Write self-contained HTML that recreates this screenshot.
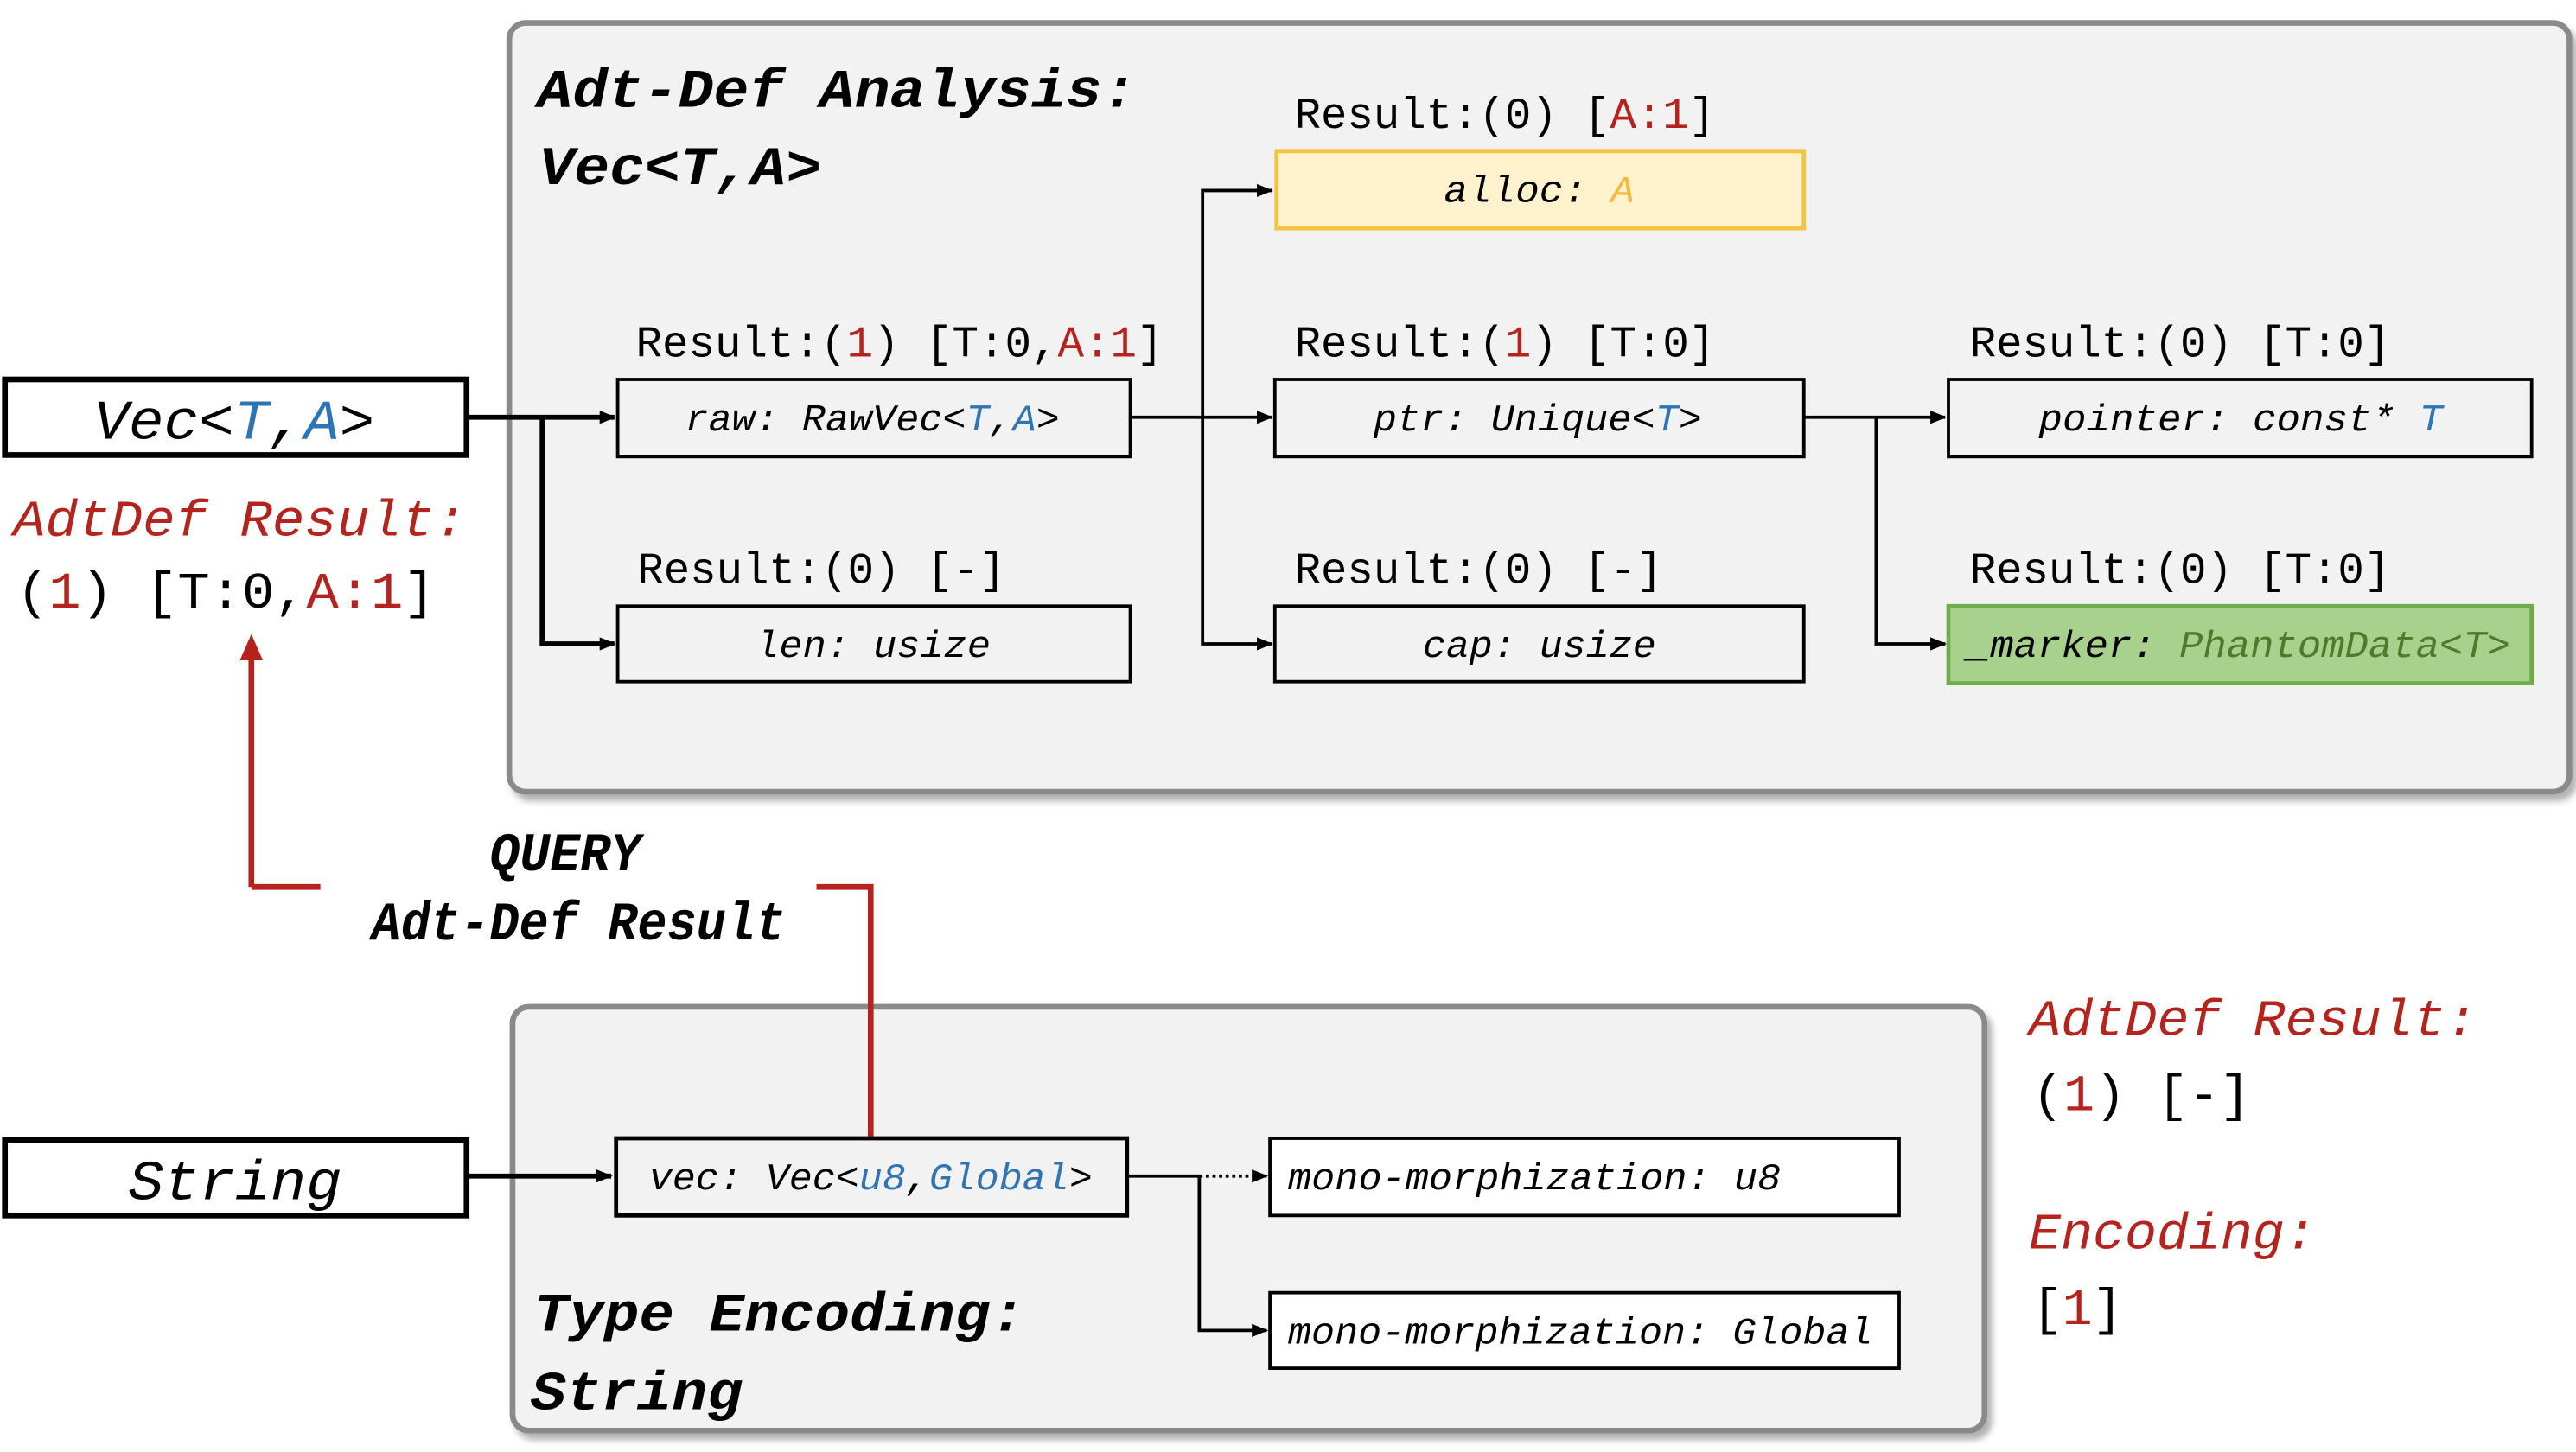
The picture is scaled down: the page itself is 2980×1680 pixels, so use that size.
<!DOCTYPE html>
<html><head><meta charset="utf-8"><style>
html,body{margin:0;padding:0;background:#fff;}
svg{display:block;}
text{font-family:"Liberation Mono","DejaVu Sans Mono",monospace;}
.lb{font-size:27px;}
.bx{font-size:23px;font-style:italic;}
.tt{font-size:33px;font-style:italic;font-weight:bold;}
.r{fill:#b5231c;}
.b{fill:#2e75b6;}
.y{fill:#f5b83d;}
</style></head><body>
<svg width="2980" height="1680" viewBox="0 0 1568 884" preserveAspectRatio="none" xmlns="http://www.w3.org/2000/svg">
<defs>
<marker id="ah" markerWidth="10" markerHeight="10" refX="9" refY="5" orient="auto" markerUnits="userSpaceOnUse"><path d="M0,1 L10,5 L0,9 z" fill="#000"/></marker>
<marker id="rh" markerWidth="14" markerHeight="14" refX="7" refY="7" orient="auto" markerUnits="userSpaceOnUse"><path d="M0,1 L14,7 L0,13 z" fill="#b5231c"/></marker>
<filter id="sh" x="-5%" y="-5%" width="110%" height="115%"><feDropShadow dx="3" dy="4" stdDeviation="2" flood-color="#000" flood-opacity="0.3"/></filter>
</defs>

<!-- top group -->
<rect x="310" y="14" width="1254" height="468" rx="10" fill="#f2f2f2" stroke="#8a8a8a" stroke-width="3.5" filter="url(#sh)"/>
<text class="tt" x="327" y="65" textLength="365" lengthAdjust="spacingAndGlyphs">Adt-Def Analysis:</text>
<text class="tt" x="328" y="112" textLength="172" lengthAdjust="spacingAndGlyphs">Vec&lt;T,A&gt;</text>

<!-- bottom group -->
<rect x="312" y="613" width="896" height="258" rx="10" fill="#f2f2f2" stroke="#8a8a8a" stroke-width="3.5" filter="url(#sh)"/>
<text class="tt" x="325" y="810" font-size="36" textLength="299" lengthAdjust="spacingAndGlyphs">Type Encoding:</text>
<text class="tt" x="323" y="858" font-size="36" textLength="129" lengthAdjust="spacingAndGlyphs">String</text>

<!-- Vec box -->
<rect x="3" y="231" width="281" height="46" fill="#fff" stroke="#000" stroke-width="3.5"/>
<text x="57" y="267" font-size="34" font-style="italic" textLength="171" lengthAdjust="spacingAndGlyphs">Vec&lt;<tspan class="b">T</tspan>,<tspan class="b">A</tspan>&gt;</text>
<text x="8" y="326" font-size="31" font-style="italic" class="r" textLength="276" lengthAdjust="spacingAndGlyphs">AdtDef Result:</text>
<text x="10" y="370" font-size="31" textLength="255" lengthAdjust="spacingAndGlyphs">(<tspan class="r">1</tspan>) [T:0,<tspan class="r">A:1</tspan>]</text>

<!-- arrows top -->
<g stroke="#000" stroke-width="3" fill="none">
<path d="M285,254 H374" marker-end="url(#ah)"/>
<path d="M330,254 V392 H374" marker-end="url(#ah)"/>
</g>
<g stroke="#000" stroke-width="2" fill="none">
<path d="M688,254 H774" marker-end="url(#ah)"/>
<path d="M732,254 V116 H774" marker-end="url(#ah)"/>
<path d="M732,254 V392 H774" marker-end="url(#ah)"/>
<path d="M1098,254 H1184" marker-end="url(#ah)"/>
<path d="M1142,254 V392 H1184" marker-end="url(#ah)"/>
</g>

<!-- raw / len -->
<text class="lb" x="387" y="217" textLength="321" lengthAdjust="spacingAndGlyphs">Result:(<tspan class="r">1</tspan>) [T:0,<tspan class="r">A:1</tspan>]</text>
<rect x="376" y="231" width="312" height="47" fill="#f2f2f2" stroke="#000" stroke-width="2"/>
<text class="bx" x="417" y="262" textLength="228" lengthAdjust="spacingAndGlyphs">raw: RawVec&lt;<tspan class="b">T</tspan>,<tspan class="b">A</tspan>&gt;</text>
<text class="lb" x="388" y="355" textLength="224" lengthAdjust="spacingAndGlyphs">Result:(0) [-]</text>
<rect x="376" y="369" width="312" height="46" fill="#f2f2f2" stroke="#000" stroke-width="2"/>
<text class="bx" x="460" y="400" textLength="143" lengthAdjust="spacingAndGlyphs">len: usize</text>

<!-- alloc / ptr / cap -->
<text class="lb" x="788" y="78" textLength="256" lengthAdjust="spacingAndGlyphs">Result:(0) [<tspan class="r">A:1</tspan>]</text>
<rect x="777" y="92" width="321" height="47" fill="#fff2cc" stroke="#f5c342" stroke-width="2.5"/>
<text class="bx" x="879" y="123" textLength="116" lengthAdjust="spacingAndGlyphs">alloc: <tspan class="y">A</tspan></text>
<text class="lb" x="788" y="217" textLength="256" lengthAdjust="spacingAndGlyphs">Result:(<tspan class="r">1</tspan>) [T:0]</text>
<rect x="776" y="231" width="322" height="47" fill="#f2f2f2" stroke="#000" stroke-width="2"/>
<text class="bx" x="836" y="262" textLength="200" lengthAdjust="spacingAndGlyphs">ptr: Unique&lt;<tspan class="b">T</tspan>&gt;</text>
<text class="lb" x="788" y="355" textLength="224" lengthAdjust="spacingAndGlyphs">Result:(0) [-]</text>
<rect x="776" y="369" width="322" height="46" fill="#f2f2f2" stroke="#000" stroke-width="2"/>
<text class="bx" x="866" y="400" textLength="142" lengthAdjust="spacingAndGlyphs">cap: usize</text>

<!-- pointer / marker -->
<text class="lb" x="1199" y="217" textLength="256" lengthAdjust="spacingAndGlyphs">Result:(0) [T:0]</text>
<rect x="1186" y="231" width="355" height="47" fill="#f2f2f2" stroke="#000" stroke-width="2"/>
<text class="bx" x="1241" y="262" textLength="246" lengthAdjust="spacingAndGlyphs">pointer: const* <tspan class="b">T</tspan></text>
<text class="lb" x="1199" y="355" textLength="256" lengthAdjust="spacingAndGlyphs">Result:(0) [T:0]</text>
<rect x="1186" y="369" width="355" height="47" fill="#a9d18e" stroke="#70ad47" stroke-width="2.5"/>
<text class="bx" x="1197" y="400" textLength="331" lengthAdjust="spacingAndGlyphs">_marker: <tspan fill="#4e7a2a">PhantomData&lt;T&gt;</tspan></text>

<!-- red query lines -->
<g stroke="#b5231c" stroke-width="3.5" fill="none">
<path d="M153,540 V398"/>
<path d="M153,540 H195"/>
<path d="M497,540 H530 V693"/>
</g>
<path d="M146,402 L153,386 L160,402 z" fill="#b5231c"/>
<text class="tt" x="298" y="530" font-size="29" textLength="92" lengthAdjust="spacingAndGlyphs">QUERY</text>
<text class="tt" x="226" y="572" font-size="29" textLength="252" lengthAdjust="spacingAndGlyphs">Adt-Def Result</text>

<!-- String -->
<rect x="3" y="694" width="281" height="46" fill="#fff" stroke="#000" stroke-width="3.5"/>
<text x="78" y="730" font-size="34" font-style="italic" textLength="130" lengthAdjust="spacingAndGlyphs">String</text>
<path d="M285,716 H372" stroke="#000" stroke-width="3" fill="none" marker-end="url(#ah)"/>
<rect x="375" y="693" width="311" height="47" fill="#f2f2f2" stroke="#000" stroke-width="2.5"/>
<text class="bx" x="395" y="724" textLength="270" lengthAdjust="spacingAndGlyphs">vec: Vec&lt;<tspan class="b">u8</tspan>,<tspan class="b">Global</tspan>&gt;</text>
<g stroke="#000" stroke-width="2" fill="none">
<path d="M687,716 H730"/>
<path d="M730,716 H771" stroke-dasharray="2,2" marker-end="url(#ah)"/>
<path d="M730,716 V810 H771" marker-end="url(#ah)"/>
</g>
<rect x="773" y="693" width="383" height="47" fill="#fff" stroke="#000" stroke-width="2"/>
<text class="bx" x="784" y="724" textLength="300" lengthAdjust="spacingAndGlyphs">mono-morphization: u8</text>
<rect x="773" y="787" width="383" height="46" fill="#fff" stroke="#000" stroke-width="2"/>
<text class="bx" x="784" y="818" textLength="356" lengthAdjust="spacingAndGlyphs">mono-morphization: Global</text>

<!-- right notes -->
<text x="1235" y="630" font-size="31" font-style="italic" class="r" textLength="273" lengthAdjust="spacingAndGlyphs">AdtDef Result:</text>
<text x="1237" y="676" font-size="31" textLength="133" lengthAdjust="spacingAndGlyphs">(<tspan class="r">1</tspan>) [-]</text>
<text x="1235" y="760" font-size="31" font-style="italic" class="r" textLength="175" lengthAdjust="spacingAndGlyphs">Encoding:</text>
<text x="1237" y="806" font-size="31" textLength="55" lengthAdjust="spacingAndGlyphs">[<tspan class="r">1</tspan>]</text>
</svg>
</body></html>
